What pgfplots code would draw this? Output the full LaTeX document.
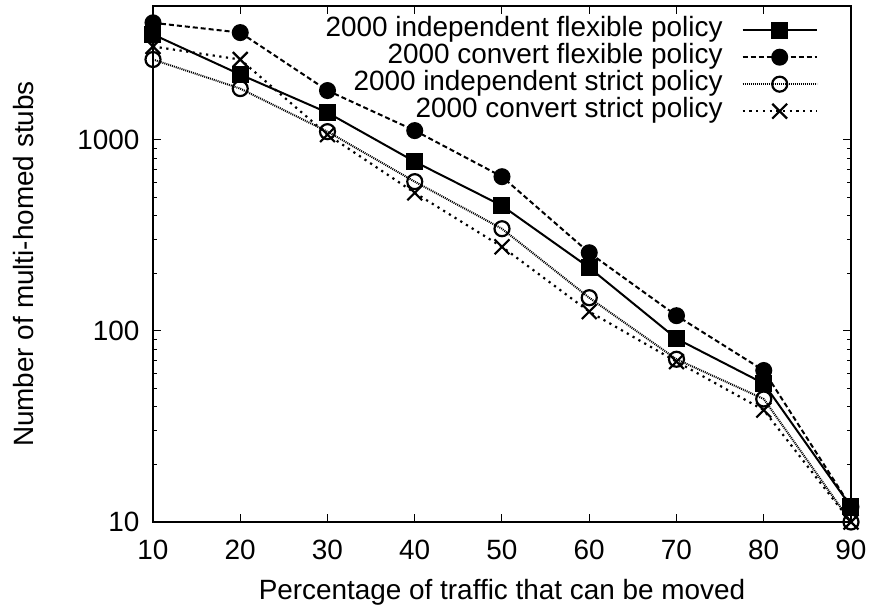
\documentclass[border=0pt]{standalone}
\usepackage{fontspec}
\setmainfont{Liberation Sans}
\usepackage{pgfplots}
\pgfplotsset{compat=1.18}
\begin{document}
\begin{tikzpicture}
\path (-153bp,-91bp) rectangle (721bp,522bp);
\begin{axis}[
  at={(0,0)}, anchor=south west,
  scale only axis, width=698bp, height=516bp,
  ymode=log, ymin=10, ymax=5000, xmin=10, xmax=90,
  xtick={10,20,...,90}, ytick={10,100,1000},
  yticklabels={10,100,1000},
  log ticks with fixed point,
  /pgf/number format/assume math mode=true,
  tick label style={font=\fontsize{28}{32}\selectfont},
  label style={font=\fontsize{28}{32}\selectfont},
  tick align=inside, major tick length=8bp, minor tick length=4bp,
  axis line style={line width=1.3bp}, every tick/.style={line width=1bp,black},
  xlabel={Percentage of traffic that can be moved},
  ylabel={Number of multi-homed stubs},
  xlabel style={at={(rel axis cs:0.5,0)}, anchor=base, yshift=-78bp},
  ylabel style={at={(rel axis cs:0,0.5)}, anchor=center, yshift=129bp},
  xticklabel style={anchor=base, yshift=-38bp},
  yticklabel style={anchor=east, xshift=-10bp},
  legend cell align=right, legend plot pos=right,
  legend image code/.code={\draw[mark repeat=2,mark phase=2,#1] plot coordinates {(0bp,0bp) (37bp,0bp) (74bp,0bp)};},
  legend style={at={(rel axis cs:1,1)}, anchor=north east, draw=none, fill=none,
    xshift=-30bp, yshift=-8.5bp, font=\fontsize{28}{32}\selectfont,
    nodes={inner sep=0pt, text height=20bp, text depth=7bp}, row sep=0bp, column sep=19bp},
]
\addplot[black, line width=2bp, mark=square*, mark size=7.5bp] coordinates {
(10,3550) (20,2190) (30,1384) (40,767) (50,451) (60,214) (70,91) (80,53) (90,12)};
\addlegendentry{2000 independent flexible policy}
\addplot[black, line width=2bp, dash pattern=on 5bp off 3bp, mark=*, mark size=7.5bp, mark options={solid}] coordinates {
(10,4083) (20,3630) (30,1806) (40,1115) (50,640) (60,256) (70,120) (80,62) (90,12)};
\addlegendentry{2000 convert flexible policy}
\addplot[black, line width=2bp, dash pattern=on 1bp off 1bp, mark=o, mark size=7.5bp, mark options={solid, line width=2.2bp}] coordinates {
(10,2624) (20,1849) (30,1101) (40,603) (50,342) (60,149) (70,71) (80,44) (90,10)};
\addlegendentry{2000 independent strict policy}
\addplot[black, line width=2.2bp, dash pattern=on 2.2bp off 4.5bp, mark=x, mark size=10.5bp, mark options={solid, line width=2.2bp}] coordinates {
(10,3070) (20,2624) (30,1062) (40,527) (50,275) (60,126) (70,69) (80,38.5) (90,10)};
\addlegendentry{2000 convert strict policy}
\end{axis}
\end{tikzpicture}
\end{document}
